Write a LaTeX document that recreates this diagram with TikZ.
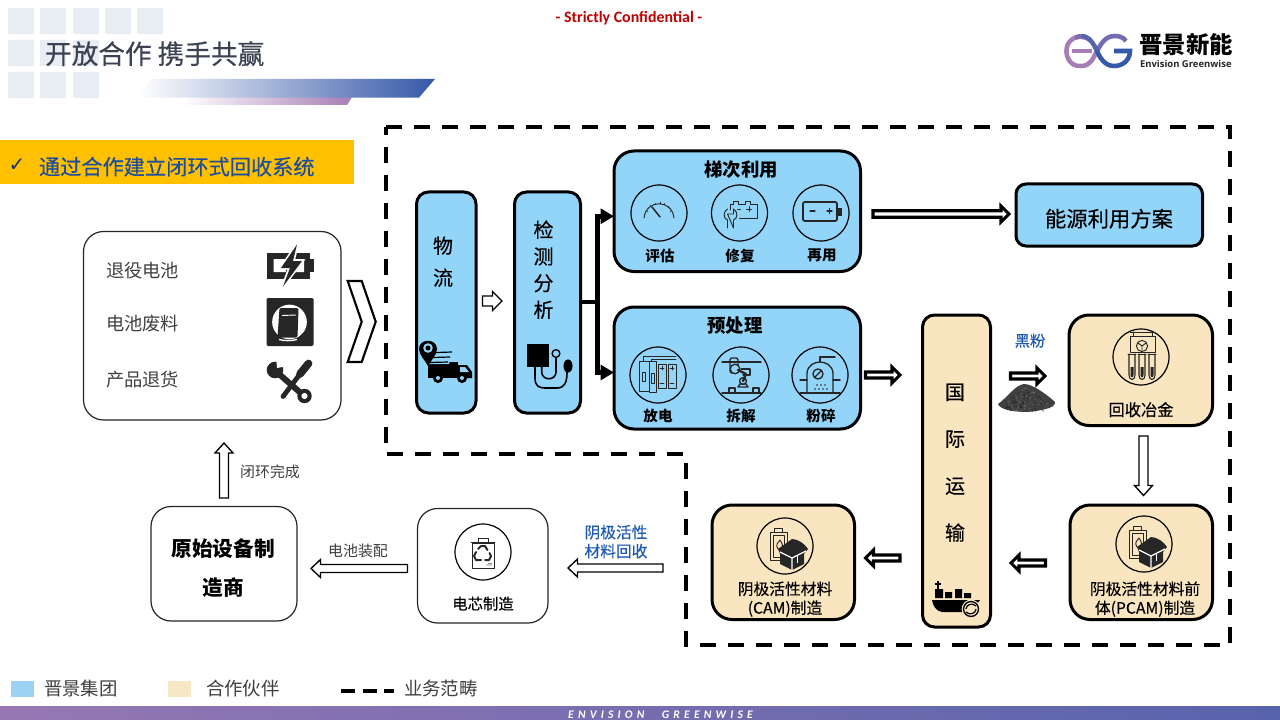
\documentclass[tikz,border=0pt]{standalone}
\usepackage{fontspec}
\setmainfont{Noto Sans CJK SC}
\newfontfamily\carl{Carlito}
\newfontfamily\djv{DejaVu Sans}
\newfontfamily\opens{Open Sans}
\newfontfamily\medf[FakeBold=0.35]{Noto Sans CJK SC}
\newfontfamily\footf[LetterSpace=36]{Carlito}
\usetikzlibrary{arrows.meta,calc}
\definecolor{bluefill}{HTML}{92D5F9}
\definecolor{beigefill}{HTML}{F9E6C0}
\definecolor{legblue}{HTML}{9CD3F5}
\definecolor{legbeige}{HTML}{F6E7C6}
\definecolor{tilec}{HTML}{E9EDF4}
\definecolor{titlec}{HTML}{3B4252}
\definecolor{labblue}{HTML}{1F5BB0}
\definecolor{bannerblue}{HTML}{1F4E9E}
\definecolor{bannerfill}{HTML}{FFC000}
\definecolor{ink}{HTML}{262626}
\definecolor{txtc}{HTML}{404040}
\definecolor{lpurple}{HTML}{A77DB6}
\definecolor{lblue}{HTML}{3558A8}
\newcommand\fs[2]{\fontsize{#1}{#2}\selectfont}
\newcommand\bx[6]{% name, style, x1,y1,x2,y2
  \pgfmathsetmacro\bw{#5-#3}\pgfmathsetmacro\bh{#6-#4}
  \node[#2,minimum width=\bw*0.75pt,minimum height=\bh*0.75pt] (#1) at ({(#3+#5)/2},{(#4+#6)/2}) {};}
\newcommand\barrow[6]{% style, from, to, shaft, head, headlen
  \coordinate (aA) at #2; \coordinate (aB) at #3;
  \coordinate (aH) at ($(aB)!#6*0.75pt!(aA)$);
  \draw[#1] ($(aA)!#4*0.375pt!90:(aB)$) -- ($(aH)!#4*0.375pt!90:(aB)$) -- ($(aH)!#5*0.375pt!90:(aB)$) -- (aB)
    -- ($(aH)!#5*0.375pt!-90:(aB)$) -- ($(aH)!#4*0.375pt!-90:(aB)$) -- ($(aA)!#4*0.375pt!-90:(aB)$) -- cycle;}
\tikzset{
  x=0.75pt,y=-0.75pt,
  txt/.style={inner sep=0pt,outer sep=0pt,align=center,yshift=-0.5pt},
  base/.style={draw=black,inner sep=0pt,outer sep=0pt},
  bluebar/.style={base,fill=bluefill,line width=2.25pt,rounded corners=9pt},
  bluepanel/.style={base,fill=bluefill,line width=2.25pt,rounded corners=15pt},
  bluewide/.style={base,fill=bluefill,line width=2.25pt,rounded corners=7.5pt},
  beigebar/.style={base,fill=beigefill,line width=2.25pt,rounded corners=9pt},
  beigepanel/.style={base,fill=beigefill,line width=2.25pt,rounded corners=15pt},
  whitepanel/.style={base,fill=white,draw=ink,line width=0.9pt,rounded corners=15pt},
  hollow/.style={draw=black,fill=white,line width=1pt,miter limit=5},
  heavy/.style={draw=black,fill=white,line width=2.3pt,miter limit=5},
  ring/.style={draw=black,line width=0.9pt,circle,inner sep=0pt,outer sep=0pt,minimum size=42pt},
  ic/.style={draw=ink,line width=0.7pt,line cap=round,line join=round},
  fork/.style={draw=black,line width=3.6pt},
}
\begin{document}
\begin{tikzpicture}
\useasboundingbox (0,0) rectangle (1280,720);
\fill[white] (0,0) rectangle (1280,720);
% ---- corner tiles
\foreach \tx/\ty in {8/8,40/8,73/8,105/8,137/8,8/40,40/40,73/40,8/72,40/72,73/72}
  \fill[tilec] (\tx,\ty) rectangle ++(26,26);
% ---- title bars
\shade[left color=white,right color=lpurple] (182,105) -- (190,97) -- (352,97) -- (347,105) -- cycle;
\shade[left color=white,right color=lblue] (137,97.6) -- (153,79) -- (435,79) -- (419,97.6) -- cycle;
\node[txt,text=titlec,anchor=west,font={\medf\fs{20}{24}}] (title) at (45,53) {开放合作 携手共赢};
\node[txt,text=red!75!black,font={\carl\bfseries\fs{11.9}{14}}] (conf) at (629,18) {- Strictly Confidential -};
% ---- logo
\begin{scope}[line width=3.4pt,line cap=butt]
 \draw[lpurple] (1090.5,40.5) .. controls (1084,35) and (1072,35) .. (1067.5,45) .. controls (1064,54) and (1069,67) .. (1081,66) .. controls (1091,66) and (1093,58) .. (1097,51);
 \draw[lpurple] (1072,51) -- (1092,51);
 \draw[lpurple!55!lblue] (1097,51) .. controls (1101,44) and (1105,36) .. (1115,36) .. controls (1119,36) and (1123,37) .. (1126,41);
 \draw[lpurple!30!lblue] (1081,36) .. controls (1090,36) and (1094,45) .. (1097,51);
 \draw[lpurple!60!lblue] (1081,36) -- (1075,37.5);
 \draw[lblue] (1097,51) .. controls (1100,58) and (1105,66) .. (1114,66) .. controls (1124,66) and (1130,59) .. (1130,51) -- (1114,51);
\end{scope}
\node[txt,anchor=west,font={\bfseries\fs{17.5}{20}}] (logotext) at (1139.5,44) {晋景新能};
\node[txt,anchor=west,font={\opens\bfseries\fs{7.1}{8}},text=ink] (logosub) at (1140,63.5) {Envision Greenwise};
% ---- banner
\fill[bannerfill] (0,140) rectangle (354,184);
\node[txt,text=bannerblue!70!black,font={\djv\fs{15}{17}}] (chk) at (17,165) {✓};
\node[txt,text=bannerblue,anchor=west,font={\medf\fs{15.9}{18}}] (banner) at (39,166) {通过合作建立闭环式回收系统};
% ---- dashed scope
\draw[line width=2.7pt,dash pattern=on 12pt off 9pt] (386,127) -- (1230,127) -- (1230,645) -- (686,645) -- (686,454) -- (386,454) -- cycle;
% ---- boxes
\bx{src}{whitepanel}{83.5}{231.5}{341}{420}
\bx{logi}{bluebar}{416.5}{192}{476}{413}
\bx{det}{bluebar}{514.5}{192}{580.5}{413}
\bx{eche}{bluepanel}{614}{151}{860.5}{271.5}
\bx{pre}{bluepanel}{614}{307}{860.5}{429}
\bx{energy}{bluewide}{1016}{184}{1202.5}{246}
\bx{ship}{beigebar}{922.5}{315}{990.5}{627}
\bx{hydro}{beigepanel}{1069}{315}{1212.5}{425.5}
\bx{pcam}{beigepanel}{1070}{505}{1212.5}{619.5}
\bx{cam}{beigepanel}{712}{505}{854.5}{619.5}
\bx{cell}{whitepanel}{417.5}{508.5}{548}{623}
\bx{oem}{whitepanel}{151}{506.5}{297}{621}
% ---- rings
\foreach \nm/\cx/\cy in {r1/659/213,r2/739.5/213,r3/821/213,r4/658/375,r5/741/375,r6/820/375,r7/1141/357,r8/1144/544,r9/785/546,r10/483/552}
  \node[ring] (\nm) at (\cx,\cy) {};
% ---- texts
\node[txt,text=txtc,anchor=west,font={\fs{13.7}{16}}] (s1) at (106,270) {退役电池};
\node[txt,text=txtc,anchor=west,font={\fs{13.7}{16}}] (s2) at (106,323) {电池废料};
\node[txt,text=txtc,anchor=west,font={\fs{13.7}{16}}] (s3) at (106,379) {产品退货};
\node[txt,font={\medf\fs{15}{24}}] (tlogi) at (443,261) {物\\流};
\node[txt,font={\medf\fs{15}{20}}] (tdet) at (543.5,269) {检\\测\\分\\析};
\node[txt,font={\bfseries\fs{13.8}{16}}] (teche) at (741,169) {梯次利用};
\node[txt,font={\bfseries\fs{13.8}{16}}] (tpre) at (735,325) {预处理};
\foreach \nm/\cx/\cy/\s in {l1/660/255/评估,l2/740/255/修复,l3/822/255/再用,l4/658/415/放电,l5/741/415/拆解,l6/821/415/粉碎}
  \node[txt,font={\bfseries\fs{10.9}{12}}] (\nm) at (\cx,\cy) {\s};
\node[txt,font={\medf\fs{16}{18}}] (tenergy) at (1109,218) {能源利用方案};
\node[txt,font={\medf\fs{15}{35.2}}] (tship) at (955,462) {国\\际\\运\\输};
\node[txt,text=labblue,font={\medf\fs{11.5}{13}}] (tblack) at (1030,340) {黑粉};
\node[txt,font={\medf\fs{12.2}{14}}] (thydro) at (1141,409) {回收冶金};
\node[txt,font={\medf\fs{11.8}{14.2}}] (tpcam) at (1145,598.5) {阴极活性材料前\\体(PCAM)制造};
\node[txt,font={\medf\fs{11.8}{14.2}}] (tcam) at (785,598.5) {阴极活性材料\\(CAM)制造};
\node[txt,text=labblue,font={\medf\fs{11.8}{14.2}}] (trec) at (616,541) {阴极活性\\材料回收};
\node[txt,font={\medf\fs{11.5}{14}}] (tcell) at (483,603) {电芯制造};
\node[txt,text=txtc,font={\fs{11.2}{13}}] (tasm) at (358,550) {电池装配};
\node[txt,font={\bfseries\fs{15.5}{29.2}}] (toem) at (223,567) {原始设备制\\造商};
\node[txt,text=txtc,font={\fs{11.2}{13}}] (tclose) at (270,471) {闭环完成};
% ---- chevron
\draw[line width=1.6pt,miter limit=6] (347.7,281) -- (361.7,281) -- (375.7,321.7) -- (361.7,362) -- (347.7,362) -- (361.7,321.7) -- cycle;
% ---- connectors
\coordinate (bj) at (597.5,302);
\coordinate (t1) at ($(eche.west)+(0,5)$);
\coordinate (t2) at ($(pre.west)+(0,4.5)$);
\draw[fork] (det.east|-bj) -- (bj);
\draw[fork,-{Triangle[length=10pt,width=11pt]}] (bj) |- (t1);
\draw[fork,-{Triangle[length=10pt,width=11pt]}] (bj) |- (t2);
\barrow{hollow}{(482.5,301)}{(502,301)}{10}{19}{9.5}
\barrow{heavy}{(873,214)}{(1009,214)}{6.5}{16}{8}
\barrow{heavy}{(865.5,375)}{(900,375)}{6}{16}{8}
\barrow{heavy}{(1010.5,376)}{(1045,376)}{6}{16}{8}
\barrow{heavy}{(1045.5,563)}{(1011,563)}{6}{16}{8}
\barrow{heavy}{(900,558)}{(865.5,558)}{6}{16}{8}
\barrow{hollow}{(1143.5,436)}{(1143.5,495.5)}{9}{18}{10}
\barrow{hollow}{(663,568)}{(568,568)}{8}{18}{9.5}
\barrow{hollow}{(407.5,568.5)}{(311,568.5)}{8}{18}{9.5}
\barrow{hollow}{(224,498)}{(224,443)}{9}{18}{10}
% ---- source icons
\fill[ink] (267,252.5) rectangle (310,278.5);
\fill[ink] (309,259) rectangle (313.5,272);
\fill[white] (273.5,259) rectangle (286,272) (294,259) rectangle (304,272);
\draw[white,line width=2.6pt,fill=ink,line join=miter] (297,245) -- (281,268) -- (290,268) -- (283,286) -- (302,261) -- (293,261) -- cycle;
\fill[ink] (297,244.5) -- (281,268) -- (290,268) -- (283,286.5) -- (302,261) -- (293,261) -- cycle;
\fill[ink,rounded corners=1pt] (266.5,298) rectangle (313.5,346);
\fill[white] (289.5,322) circle[radius=13pt];
\draw[ink,line width=.9pt] (274,310) -- (281,305) (304,333) -- (297,340);
\fill[ink,rounded corners=1pt] (279.5,308) -- (298.5,308) -- (297.5,337.5) -- (277.5,337.5) -- cycle;
\draw[white,line width=.7pt] (282,315.5) -- (296,315);
\draw[white,line width=1pt] (279,339.5) .. controls (284,341) and (292,341) .. (297,339.5);
\draw[ink,line width=4.5pt] (279,374) -- (303,395);
\fill[ink] (304.5,396) circle[radius=5.4pt];
\fill[white] (304.5,396) circle[radius=2.3pt];
\fill[ink] (275,370) circle[radius=6.2pt];
\fill[white] (276,356) -- (277,368) -- (285,366.5) -- (285,356) -- cycle;
\draw[ink,line width=3.6pt,line cap=round] (300,374) -- (283,396.5);
\draw[ink,line width=5.8pt,line cap=round] (308.5,363.5) -- (300,374);
% ---- gauge
\begin{scope}[shift={(r1.center)}]
 \draw[ic] (-15,5) .. controls (-13,-14) and (13,-14) .. (15,5);
 \draw[ic,line width=1.1pt] (-7,-6) -- (1,4);
 \foreach \a/\b/\c/\d in {-13/-3/-11/-1,-9/-8/-8/-6,-4/-10/-3/-8,1/-11/1/-9,6/-10/5/-8,10/-7/9/-5,13/-3/11/-1}
   \draw[ic,line width=.4pt] (\a,\b) -- (\c,\d);
\end{scope}
% ---- wrench battery
\begin{scope}[shift={(r2.center)}]
 \draw[ic] (-9,-3) -- (-9,-9) -- (-6,-9) -- (-6,-12) -- (-1,-12) -- (-1,-9) -- (6,-9) -- (6,-12) -- (11,-12) -- (11,-9) -- (18,-9) -- (18,5) -- (0,5);
 \draw[ic] (-2,-4) -- (1,-4) (7,-4) -- (12,-4) (9.5,-6.5) -- (9.5,-1.5);
 \draw[ic] (-12,-4) .. controls (-17,-1) and (-16,6) .. (-12,7) -- (-12,15) (-6,15) -- (-6,7) .. controls (-2,6) and (-1,-1) .. (-6,-4) -- (-6,1) -- (-12,1) -- cycle;
\end{scope}
% ---- battery
\begin{scope}[shift={(r3.center)}]
 \draw[ic,line width=1.3pt,rounded corners=1pt] (-18,-11) rectangle (16,8);
 \fill[ink] (17,-5) rectangle (20.5,3);
 \draw[ic,line width=.9pt] (-11,-2) -- (-6,-2) (6,-2) -- (11,-2) (8.5,-4.5) -- (8.5,.5);
\end{scope}
% ---- discharge
\begin{scope}[shift={(r4.center)}]
 \draw[ic] (-19,-14) rectangle (-9,16) (-9,-14) rectangle (-2,17) (0,-11) rectangle (8,13) (10,-11) rectangle (18,13);
 \draw[ic] (-15,-14) -- (-15,-19) -- (18,-19) (-7,-14) -- (-7,-16) -- (18,-16);
 \draw[ic] (-16,-3) rectangle (-13,6) (-7,-2) rectangle (-4,8);
 \draw[ic] (2,-7) -- (6,-7) (4,-9) -- (4,-5) (12,-7) -- (16,-7) (14,-9) -- (14,-5) (2,8) -- (6,8) (12,8) -- (16,8);
\end{scope}
% ---- robot arm
\begin{scope}[shift={(r5.center)}]
 \draw[ic,line width=1pt] (-19,-13) -- (20,-13) (-19,18) -- (20,18);
 \draw[ic,line width=1pt] (-12,18) -- (-12,13) -- (-6,13) -- (-6,18) (12,18) -- (12,13) -- (18,13) -- (18,18);
 \draw[ic,line width=1pt,rounded corners=1.5pt] (-11,-17) rectangle (-3,-2);
 \draw[ic,line width=1pt,fill=bluefill] (-6,-6) circle[radius=3.6pt];
 \draw[ic,line width=1.8pt] (-3,-5) -- (5,-1) (5,-1) -- (2,6);
 \draw[ic,line width=1pt] (0,-6) -- (9,-6) -- (9,0) -- (2,0);
 \draw[ic,line width=1pt] (2,6) circle[radius=2.6pt];
 \draw[ic,line width=1pt] (-3,12) -- (7,12) -- (5,9) -- (-1,9) -- cycle;
\end{scope}
% ---- reactor
\begin{scope}[shift={(r6.center)}]
 \draw[ic,line width=1pt] (-13,18) -- (-13,-1) .. controls (-13,-10) and (-5,-13) .. (0,-13) .. controls (5,-13) and (13,-10) .. (13,-1) -- (13,18);
 \draw[ic,line width=1pt] (-20,18) -- (20,18) (0,-13) -- (0,-18) -- (15,-18) (-20,5) -- (-13,5) (13,5) -- (20,5);
 \draw[ic,line width=1pt] (-2,-1) circle[radius=3.8pt] (-5,2) -- (1,-4);
 \foreach \a/\b in {-5/14,-1/14,3/14,7/14,-3/10,1/10,5/10}
   \fill[ink] (\a,\b) circle[radius=.6pt];
\end{scope}
% ---- hydromet
\begin{scope}[shift={(r7.center)}]
 \draw[ic] (-11,-21) rectangle (14,-5) (-8,-21) -- (-8,-25) (11,-21) -- (11,-25) (-11,-25) -- (14,-25);
 \draw[ic] (1,-11) circle[radius=4.2pt];
 \draw[ic] (1,-11) -- (1,-6) (1,-11) -- (-3,-14) (1,-11) -- (5,-14);
 \foreach \tx in {-12,-2,8}{
   \draw[ic,line width=.8pt] (\tx,-3) -- (\tx,18) .. controls (\tx,24) and (\tx+6,24) .. (\tx+6,18) -- (\tx+6,-3);
   \fill[ink] (\tx+1.5,10) -- (\tx+4.5,10) -- (\tx+4.5,18) .. controls (\tx+4.5,21) and (\tx+1.5,21) .. (\tx+1.5,18) -- cycle;
   \draw[ic] (\tx-1,-3) -- (\tx+7,-3);}
\end{scope}
% ---- boxes with battery
\foreach \rn in {r8,r9}{
\begin{scope}[shift={(\rn.center)}]
 \draw[ic] (-15,-14) rectangle (2,14) (-11,-14) -- (-11,-18) -- (-3,-18) -- (-3,-14) (-12,-11) rectangle (-1,11);
 \draw[ic] (-7,3) .. controls (-10,-1) and (-7,-4) .. (-5,-6) .. controls (-3,-3) and (-1,1) .. (-4,3) -- cycle;
 \fill[ink] (-7,3) -- (7,-7) .. controls (13,-7) and (20,-2) .. (23,3) -- (19,8) -- (19,18) -- (7,24) -- (-5,18) -- (-5,8) -- cycle;
 \draw[white,line width=.9pt] (-5,6) -- (7,12) -- (21,5) (7,12) -- (7,24);
 \draw[white,line width=.6pt] (12,10) -- (12,17);
\end{scope}}
% ---- recycling bin
\begin{scope}[shift={(r10.center)}]
 \draw[ic] (-11,-9) rectangle (11,16) (-12,-10) -- (12,-10) (-5,-10) -- (-5,-14) -- (5,-14) -- (5,-10);
 \draw[ic,line width=1.5pt] (-2,-6) -- (2,-6) -- (4.5,-2) (6.5,1) -- (8,4) -- (6,8) -- (2,8) (-2,8) -- (-7,8) -- (-9,4) -- (-7,0) (-5,-3) -- (-2,-6);
 \foreach \a/\b in {4/13,6/13,8/13,6/11.5,8/11.5}
   \fill[ink] (\a,\b) circle[radius=.4pt];
\end{scope}
% ---- truck
\fill[black] (428,362) rectangle (458,378);
\fill[black] (458,365) -- (467,365) -- (472,372) -- (472,378) -- (458,378) -- cycle;
\fill[bluefill] (460,367) -- (465,367) -- (469,372) -- (460,372) -- cycle;
\fill[bluefill] (432,350) -- (453,350) -- (449,364) -- (427,364) -- cycle;
\draw[black,line width=.9pt] (436,352.5) -- (452,352) (433,357.5) -- (450,357) (430,362.5) -- (448,362);
\foreach \wx in {438,462}{\fill[black] (\wx,378) circle[radius=3.8pt];\fill[bluefill] (\wx,378) circle[radius=1.5pt];}
\fill[black] (419,349) .. controls (419,338) and (437,338) .. (437,349) .. controls (437,355) and (431,360) .. (428,366) .. controls (425,360) and (419,355) .. (419,349) -- cycle;
\fill[bluefill] (428,348) circle[radius=3.6pt];
\fill[black] (428,348) circle[radius=1.9pt];
% ---- blood pressure
\fill[black] (527,344) rectangle (549,367);
\draw[black,line width=1.2pt] (535,367) -- (535,378) .. controls (535,386) and (539,388) .. (545,388) -- (557,388) .. controls (565,388) and (567,382) .. (567,372);
\draw[black,line width=1.2pt] (541.7,367) -- (541.7,372) .. controls (541.7,381) and (556,381) .. (556,372) -- (556,358);
\draw[black,line width=1pt] (556,353.5) circle[radius=2.9pt];
\fill[black] (568,366) ellipse[x radius=3.4pt,y radius=4.9pt];
% ---- ship
\fill[black] (932,600) -- (980,600) -- (971,612) -- (942,612) .. controls (936,611) and (933,606) .. (932,600) -- cycle;
\fill[black] (935,589) rectangle (943,598) (945,592) rectangle (952,598) (955,589) rectangle (962,598) (964,593) rectangle (971,598);
\draw[black,line width=.9pt] (938,581) -- (938,589) (935,584) -- (941,584);
\fill[beigefill] (971,609) circle[radius=7pt];
\draw[black,line width=1pt] (971,609) circle[radius=5.6pt];
\draw[black,line width=.9pt] (966,609) .. controls (966,605) and (972,602) .. (976,606) (976,609) .. controls (976,613) and (970,616) .. (966,612);
% ---- powder
\fill[black!75] (998,404) .. controls (1008,397) and (1015,385) .. (1024,384) .. controls (1032,384) and (1045,393) .. (1055,402) .. controls (1056,408) and (1040,411) .. (1027,412) .. controls (1015,412) and (1000,410) .. (998,404) -- cycle;
\pgfmathsetseed{7}
\foreach \i in {1,...,260}{
  \pgfmathsetmacro\px{1001+rnd*52}
  \pgfmathsetmacro\py{388+rnd*23}
  \pgfmathsetmacro\pk{55+rnd*35}
  \pgfmathsetmacro\ok{abs(\px-1027)/26+abs(\py-406)/20<1?1:0}
  \ifdim\ok pt>0.5pt \fill[black!\pk] (\px,\py) circle[radius=.6pt];\fi
}
% ---- legend
\fill[legblue] (11,681) rectangle (34,697);
\node[txt,anchor=west,text=txtc,font={\fs{13.8}{16}}] (lg1) at (44,688) {晋景集团};
\fill[legbeige] (168,681) rectangle (191,697);
\node[txt,anchor=west,text=txtc,font={\fs{13.8}{16}}] (lg2) at (206,688) {合作伙伴};
\draw[black,line width=2.4pt,dash pattern=on 10.5pt off 5.7pt] (341,691) -- (394,691);
\node[txt,anchor=west,text=txtc,font={\fs{13.8}{16}}] (lg3) at (404,688) {业务范畴};
% ---- footer
\shade[left color=lpurple!85!lblue,right color=lblue!70!lpurple] (0,706) rectangle (1280,720);
\node[txt,text=white,font={\footf\bfseries\itshape\fs{8.7}{10}}] (foot) at (660.5,714) {ENVISION\hspace{1.5em}GREENWISE};
\end{tikzpicture}
\end{document}
